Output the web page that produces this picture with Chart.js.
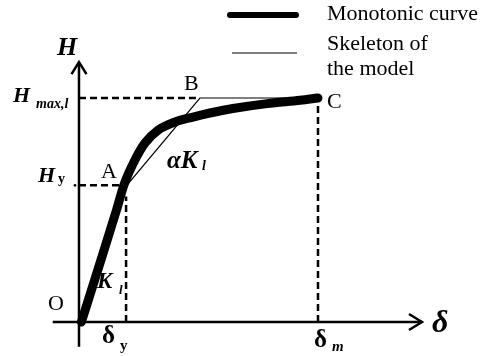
<!DOCTYPE html>
<html>
<head>
<meta charset="utf-8">
<script src="https://cdn.jsdelivr.net/npm/chart.js@4"></script>
<style>
  body { margin: 0; background: #fff; }
  canvas { display: block; }
</style>
</head>
<body>
<canvas id="chartSkeleton" width="492" height="356"></canvas>
<script>
// monotonic curve (δ normalised by δm, H normalised by Hmax,1)
const curvaDelta = [0.01, 0.092, 0.157, 0.188, 0.234, 0.276, 0.331, 0.402, 0.477, 0.548, 0.644, 0.787, 0.925, 1.0];
const curvaH     = [0, 0.277, 0.500, 0.612, 0.723, 0.799, 0.857, 0.893, 0.915, 0.933, 0.953, 0.975, 0.990, 1.0];

// skeleton of the model: O - A - B - C
const esqueletoDelta = [0, 0.20, 0.506, 1.0];
const esqueletoH     = [0, 0.61, 1.0, 1.0];

// characteristic values
const deltaY = 0.197;
const deltaM = 1.0;
const hY = 0.61;
const hMax = 1.0;
const deltaYCorte = 0.56;   // where the δy guide meets the curve
const hYCorte = 0.184;      // where the Hy guide meets the curve

const puntos = (xs, ys) => xs.map((x, i) => ({ x: x, y: ys[i] }));

const lineaGuia = {
    borderColor: '#000',
    borderWidth: 2.5,
    borderDash: [7, 4],
    pointRadius: 0,
    showLine: true,
    fill: false
};

const fuente = '"Liberation Serif", "Times New Roman", serif';

function texto(ctx, t, x, y, font) {
    ctx.font = font;
    ctx.fillText(t, x, y);
}

// axes with arrows, labels and legend
const dibujoEjes = {
    id: 'dibujoEjes',
    afterDatasetsDraw(chart) {
        const ctx = chart.ctx;
        const xs = chart.scales.x;
        const ys = chart.scales.y;
        const px = v => xs.getPixelForValue(v);
        const py = v => ys.getPixelForValue(v);

        ctx.save();
        ctx.strokeStyle = '#000';
        ctx.fillStyle = '#000';
        ctx.lineWidth = 2.5;
        ctx.lineCap = 'butt';

        // axes
        ctx.beginPath();
        ctx.moveTo(px(-0.11), py(0));
        ctx.lineTo(px(1.435), py(0));
        ctx.moveTo(px(0), py(-0.11));
        ctx.lineTo(px(0), py(1.16));
        ctx.stroke();

        // arrow heads
        const xt = px(1.435), yt = py(0);
        ctx.beginPath();
        ctx.moveTo(xt - 13, yt - 8);
        ctx.lineTo(xt, yt);
        ctx.lineTo(xt - 13, yt + 8);
        const xv = px(0), yv = py(1.16);
        ctx.moveTo(xv - 7.5, yv + 12);
        ctx.lineTo(xv, yv);
        ctx.lineTo(xv + 7.5, yv + 12);
        ctx.stroke();

        ctx.textBaseline = 'alphabetic';
        ctx.textAlign = 'left';

        // axis names
        texto(ctx, 'H', 57, 55, 'bold italic 26px ' + fuente);
        texto(ctx, 'δ', 432, 332, 'bold italic 32px ' + fuente);

        // H ticks
        texto(ctx, 'H', 13, 102, 'bold italic 22px ' + fuente);
        texto(ctx, 'max,l', 36, 108, 'bold italic 14px ' + fuente);
        texto(ctx, 'H', 38, 182, 'bold italic 22px ' + fuente);
        texto(ctx, 'y', 58, 183, 'bold 14px ' + fuente);
        ctx.beginPath();
        ctx.arc(75, py(hY), 1.3, 0, Math.PI * 2);
        ctx.fill();

        // δ ticks
        texto(ctx, 'δ', 102, 343, 'bold 25px ' + fuente);
        texto(ctx, 'y', 120, 350, 'bold 15px ' + fuente);
        texto(ctx, 'δ', 314, 347, 'bold 25px ' + fuente);
        texto(ctx, 'm', 332, 351, 'bold italic 15px ' + fuente);

        // points
        texto(ctx, 'O', 48, 310, '22px ' + fuente);
        texto(ctx, 'A', 101, 178, '22px ' + fuente);
        texto(ctx, 'B', 184, 90, '22px ' + fuente);
        texto(ctx, 'C', 327, 108, '22px ' + fuente);

        // stiffness labels
        texto(ctx, 'K', 97, 288, 'bold italic 23px ' + fuente);
        texto(ctx, 'l', 119, 294, 'bold italic 13px ' + fuente);
        texto(ctx, 'αK', 167, 168, 'bold italic 25px ' + fuente);
        texto(ctx, 'l', 202, 170, 'bold italic 14px ' + fuente);

        // legend
        ctx.lineCap = 'round';
        ctx.lineWidth = 6;
        ctx.beginPath();
        ctx.moveTo(230, 15);
        ctx.lineTo(296, 15);
        ctx.stroke();
        ctx.lineCap = 'butt';
        ctx.lineWidth = 1.2;
        ctx.beginPath();
        ctx.moveTo(232, 53);
        ctx.lineTo(297, 53);
        ctx.stroke();
        texto(ctx, 'Monotonic curve', 327, 20, '22px ' + fuente);
        texto(ctx, 'Skeleton of', 327, 50, '22px ' + fuente);
        texto(ctx, 'the model', 327, 75, '22px ' + fuente);

        ctx.restore();
    }
};

const ctx = document.getElementById('chartSkeleton');

new Chart(ctx, {
    type: 'scatter',
    data: {
        datasets: [
            Object.assign({ data: [{ x: 0, y: hMax }, { x: esqueletoDelta[2], y: hMax }] }, lineaGuia),
            Object.assign({ data: [{ x: 0, y: hY }, { x: hYCorte, y: hY }] }, lineaGuia),
            Object.assign({ data: [{ x: deltaY, y: 0 }, { x: deltaY, y: deltaYCorte }] }, lineaGuia),
            Object.assign({ data: [{ x: deltaM, y: 0 }, { x: deltaM, y: hMax }] }, lineaGuia),
            {
                label: 'Skeleton of the model',
                data: puntos(esqueletoDelta, esqueletoH),
                showLine: true,
                borderColor: '#000',
                borderWidth: 1.2,
                pointRadius: 0,
                tension: 0
            },
            {
                label: 'Monotonic curve',
                data: puntos(curvaDelta, curvaH),
                showLine: true,
                borderColor: '#000',
                borderWidth: 9,
                borderCapStyle: 'round',
                borderJoinStyle: 'round',
                pointRadius: 0,
                cubicInterpolationMode: 'monotone'
            }
        ]
    },
    options: {
        responsive: false,
        animation: false,
        layout: { padding: 0 },
        plugins: {
            legend: { display: false },
            tooltip: { enabled: false }
        },
        scales: {
            x: { type: 'linear', display: false, min: -0.3305, max: 1.728 },
            y: { type: 'linear', display: false, min: -0.1518, max: 1.4375 }
        }
    },
    plugins: [dibujoEjes]
});
</script>
</body>
</html>
